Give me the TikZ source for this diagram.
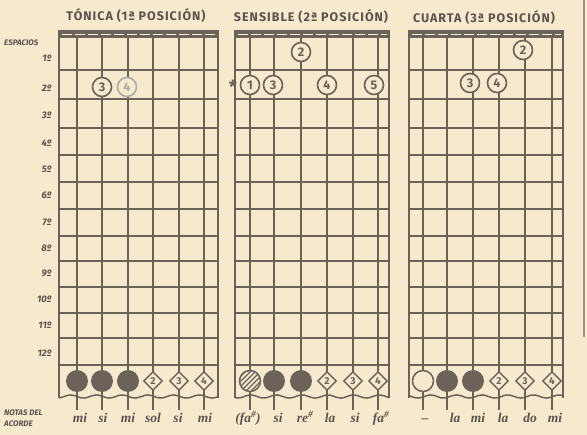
\documentclass[tikz,border=0pt]{standalone}
\usepackage{fontspec}
\setmainfont{Fira Sans}
\newfontfamily\notefont{Liberation Serif}
\newfontfamily\titlefont[LetterSpace=8]{Fira Sans}
\usetikzlibrary{shapes.geometric}
\definecolor{paper}{RGB}{245,233,206}
\definecolor{ink}{RGB}{108,98,90}
\definecolor{txt}{RGB}{92,82,78}
\tikzset{
 fing/.style={circle,draw=ink,fill=paper,line width=1.6pt,minimum size=19pt,inner sep=0pt,font=\fontsize{12.5}{12.5}\selectfont\bfseries,text=ink},
 fingfade/.style={fing,draw=ink!55,text=ink!55},
 dot/.style={circle,fill=ink,minimum size=22pt,inner sep=0pt},
 odot/.style={circle,draw=ink,fill=paper,line width=1.5pt,minimum size=21pt,inner sep=0pt},
 dia/.style={diamond,draw=ink,fill=paper,line width=1.4pt,minimum size=19pt,inner sep=0pt,font=\fontsize{10}{10}\selectfont\bfseries,text=ink},
 note/.style={font=\notefont\itshape\bfseries\fontsize{13.5}{13.5}\selectfont,text=txt,anchor=base},
 lab/.style={font=\itshape\bfseries\fontsize{9.5}{9.5}\selectfont,text=txt,anchor=east},
 small/.style={font=\itshape\bfseries\fontsize{8}{8}\selectfont,text=txt,anchor=west,inner sep=0pt},
 titl/.style={font=\titlefont\bfseries\fontsize{12.5}{12.5}\selectfont,text=txt},
 stringline/.style={ink,line width=1.6pt},
 fretline/.style={ink,line width=2.1pt},
 frameline/.style={ink,line width=2.4pt},
}
\newcommand\myboard[3]{%
  \foreach \s in {#3} {\draw[stringline] (\s,36) -- (\s,410);}
  \foreach \y in {70,99,128,155,182,209,236,261,287,313,338,365} {\draw[fretline] (#1,\y) -- (#2,\y);}
  \fill[ink] (#1,31) rectangle (#2,38.5);
  \draw[paper!60!white,line width=1.3pt,dash pattern=on 10pt off 3pt] (#1+3,34.8) -- (#2-2,34.8);
  \draw[frameline] (#1,398) -- (#1,31) -- (#2,31) -- (#2,398);
  \draw[ink,line width=1.5pt] plot[smooth,domain=#1:#2,samples=30] (\x,{396.5+1.6*sin(14*\x)});
}
\begin{document}
\begin{tikzpicture}[x=1pt,y=-1pt]
\fill[paper] (0,0) rectangle (587,435);
\useasboundingbox (0,0) rectangle (587,435);
\draw[ink!70,line width=1.2pt] (584,0) -- (584,337);

% titles
\node[titl] (t1) at (136,16) {TÓNICA (1ª POSICIÓN)};
\node[titl] (t2) at (311,17) {SENSIBLE (2ª POSICIÓN)};
\node[titl] (t3) at (484,18) {CUARTA (3ª POSICIÓN)};

% boards
\myboard{59}{218}{77,102,128,153,179,204}
\myboard{235}{389}{250,274,301,327,353,378}
\myboard{409}{563}{423,447,473,499,525,552}

% left labels
\node[small] (esp) at (4,43) {ESPACIOS};
\node[lab] (e1) at (55,58) {1º};
\node[lab] (e2) at (55,88) {2º};
\node[lab] (e3) at (55,115) {3º};
\node[lab] (e4) at (55,143) {4º};
\node[lab] (e5) at (55,169) {5º};
\node[lab] (e6) at (55,195) {6º};
\node[lab] (e7) at (55,222) {7º};
\node[lab] (e8) at (55,248) {8º};
\node[lab] (e9) at (55,273) {9º};
\node[lab] (e10) at (55,299) {10º};
\node[lab] (e11) at (55,325) {11º};
\node[lab] (e12) at (55,353) {12º};
\node[small] (nd) at (4,413) {NOTAS DEL};
\node[small] (ac) at (4,424) {ACORDE};

% panel 1 fingers
\node[fing] (a3) at (102,87) {3};
\node[fingfade] (a4) at (127,87) {4};
% panel 2 fingers
\node[fing] (b2) at (301,52) {2};
\node[fing] (b1) at (250,85) {1};
\node[fing] (b3) at (273,85) {3};
\node[fing] (b4) at (327,85) {4};
\node[fing] (b5) at (374,85) {5};
\node[font=\fontsize{18}{18}\selectfont\bfseries,text=ink] (ast) at (233,87) {*};
% panel 3 fingers
\node[fing] (c2) at (523,50) {2};
\node[fing] (c3) at (470,83) {3};
\node[fing] (c4) at (497,83) {4};

% bottom markers panel 1
\node[dot] (p1a) at (77,381) {};
\node[dot] (p1b) at (102,381) {};
\node[dot] (p1c) at (128,381) {};
\node[dia] (p1d) at (153,381) {2};
\node[dia] (p1e) at (179,381) {3};
\node[dia] (p1f) at (204,381) {4};
% panel 2
\node[odot] (p2a) at (250,381) {};
\begin{scope}
\clip (250,381) circle (9.8);
\foreach \i in {-24,-19,...,24} {\draw[ink,line width=1.3pt] (250+\i-12,393) -- (250+\i+12,369);}
\end{scope}
\node[dot] (p2b) at (274,381) {};
\node[dot] (p2c) at (301,381) {};
\node[dia] (p2d) at (327,381) {2};
\node[dia] (p2e) at (353,381) {3};
\node[dia] (p2f) at (378,381) {4};
% panel 3
\node[odot] (p3a) at (423,381) {};
\node[dot] (p3b) at (447,381) {};
\node[dot] (p3c) at (473,381) {};
\node[dia] (p3d) at (499,381) {2};
\node[dia] (p3e) at (525,381) {3};
\node[dia] (p3f) at (552,381) {4};

% note names
\node[note] (n11) at (80,423) {mi};
\node[note] (n12) at (103,423) {si};
\node[note] (n13) at (128,423) {mi};
\node[note] (n14) at (153,423) {sol};
\node[note] (n15) at (178,423) {si};
\node[note] (n16) at (205,423) {mi};
\node[note] (n21) at (248,423) {(fa\textsuperscript{\#})};
\node[note] (n22) at (278,423) {si};
\node[note] (n23) at (305,423) {re\textsuperscript{\#}};
\node[note] (n24) at (330,423) {la};
\node[note] (n25) at (355,423) {si};
\node[note] (n26) at (381,423) {fa\textsuperscript{\#}};
\node[note] (n31) at (425,423) {–};
\node[note] (n32) at (455,423) {la};
\node[note] (n33) at (478,423) {mi};
\node[note] (n34) at (503,423) {la};
\node[note] (n35) at (530,423) {do};
\node[note] (n36) at (555,423) {mi};
\end{tikzpicture}
\end{document}
